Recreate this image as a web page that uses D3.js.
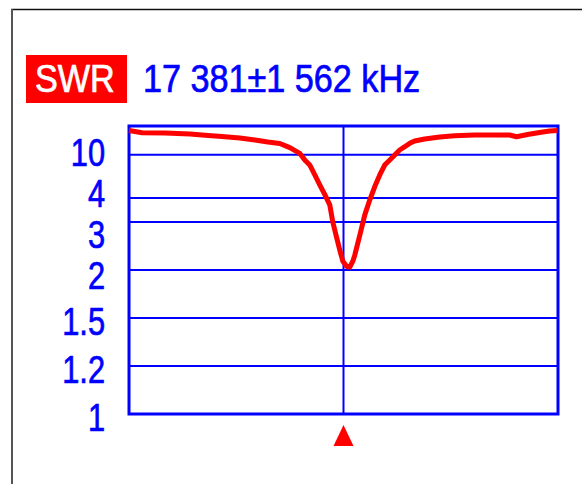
<!DOCTYPE html>
<html>
<head>
<meta charset="utf-8">
<script src="https://cdn.jsdelivr.net/npm/d3@7/dist/d3.min.js"></script>
<style>
  html, body { margin: 0; padding: 0; background: #fff; }
  svg { display: block; }
</style>
</head>
<body>
<svg id="chart" width="582" height="484"></svg>
<script>
// Sweep settings (kHz)
const centerKHz = 17381;
const spanKHz = 1562;

// Measured sweep: frequency (kHz) and SWR
const freqKHz = [15819, 15914, 16081, 16263, 16372, 16495, 16626, 16736, 16830, 16917,
  16990, 17063, 17099, 17135, 17172, 17208, 17245, 17281, 17303, 17332,
  17354, 17376, 17405, 17427, 17449, 17463, 17500, 17536, 17572, 17608,
  17645, 17681, 17718, 17754, 17790, 17827, 17863, 17899, 17972, 18081,
  18190, 18336, 18590, 18641, 18721, 18809, 18881, 18939];
const swr = [64, 43, 41, 36, 31, 27.4, 24, 20.6, 18, 16.5,
  13.3, 10.5, 8.5, 7.4, 5.9, 4.9, 4.2, 3.65, 3.0, 2.57,
  2.32, 2.13, 2.05, 2.04, 2.13, 2.23, 2.64, 3.24, 3.89, 4.74,
  5.88, 7.38, 8.47, 9.93, 12, 13.9, 16.6, 19.2, 22.2, 26.2,
  29.7, 32, 32, 26.9, 33.9, 44, 57.6, 64];

// SWR grid values and their labels
const swrTicks = [1, 1.2, 1.5, 2, 3, 4, 10];
const swrTickLabels = ["1", "1.2", "1.5", "2", "3", "4", "10"];

const svg = d3.select("#chart");
const plot = { left: 129, right: 558, top: 126, bottom: 414 };
const blue = "#0000ff", red = "#ff0000";
const font = "'Liberation Sans', Arial, sans-serif";

// Frequency axis
const x = d3.scaleLinear()
  .domain([centerKHz - spanKHz, centerKHz + spanKHz])
  .range([plot.left, plot.right]);

// SWR axis: linear in 1/SWR, so SWR = 1 at the bottom and SWR = infinity at the top
const yRecip = d3.scaleLinear().domain([1, 0]).range([plot.bottom, plot.top]);
const y = s => yRecip(1 / s);

// Outer screen frame
svg.append("line").attr("x1", 11).attr("x2", 582).attr("y1", 9.5).attr("y2", 9.5)
  .attr("stroke", "#111").attr("stroke-width", 1.5);
svg.append("line").attr("x1", 12).attr("x2", 12).attr("y1", 9).attr("y2", 484)
  .attr("stroke", "#555").attr("stroke-width", 2);

// Title
const fmt = d3.formatLocale({ decimal: ".", thousands: "\u2009", grouping: [3], currency: ["", ""] }).format(",");
const fmtSp = v => fmt(v).replace(/\u2009/g, " ");
svg.append("rect").attr("x", 26).attr("y", 55).attr("width", 101).attr("height", 48).attr("fill", red);
svg.append("g").attr("transform", "translate(35,92)")
  .append("text").attr("transform", "scale(0.9,1)")
  .attr("font-family", font).attr("font-size", 38)
  .attr("fill", "#fff").attr("stroke", "#fff").attr("stroke-width", 0.7)
  .text("SWR");
svg.append("g").attr("transform", "translate(143,92)")
  .append("text").attr("transform", "scale(0.9,1)")
  .attr("font-family", font).attr("font-size", 38)
  .attr("fill", blue).attr("stroke", blue).attr("stroke-width", 0.7)
  .text(`${fmtSp(centerKHz)}\u00b1${fmtSp(spanKHz)} kHz`);

// Horizontal grid lines
svg.append("g").selectAll("line")
  .data(swrTicks.filter(v => v > 1))
  .join("line")
  .attr("x1", plot.left).attr("x2", plot.right)
  .attr("y1", d => y(d)).attr("y2", d => y(d))
  .attr("stroke", blue).attr("stroke-width", 2);

// Center frequency line
svg.append("line")
  .attr("x1", x(centerKHz)).attr("x2", x(centerKHz))
  .attr("y1", plot.top).attr("y2", plot.bottom)
  .attr("stroke", blue).attr("stroke-width", 2);

// Plot frame
svg.append("rect")
  .attr("x", plot.left).attr("y", plot.top)
  .attr("width", plot.right - plot.left).attr("height", plot.bottom - plot.top)
  .attr("fill", "none").attr("stroke", blue).attr("stroke-width", 3);

// Tick labels: placed near their grid line, then pushed apart so they never overlap
const gap = 41, offset = 3;
const items = swrTicks.map((v, i) => ({ v, label: swrTickLabels[i], target: y(v) + offset }))
  .sort((a, b) => a.target - b.target);
const groups = [];
items.forEach(it => {
  groups.push({ items: [it], sum: it.target, n: 1 });
  while (groups.length > 1) {
    const cur = groups[groups.length - 1], prev = groups[groups.length - 2];
    if (prev.sum / prev.n + prev.n * gap <= cur.sum / cur.n) break;
    const merged = {
      items: prev.items.concat(cur.items),
      sum: prev.sum + cur.sum - cur.n * prev.n * gap,
      n: prev.n + cur.n
    };
    groups.splice(groups.length - 2, 2, merged);
  }
});
groups.forEach(g => {
  const start = g.sum / g.n;
  g.items.forEach((it, k) => { it.pos = start + k * gap; });
});

svg.append("g").selectAll("g")
  .data(items)
  .join("g")
  .attr("transform", d => `translate(105,${d.pos})`)
  .append("text")
  .attr("transform", "scale(0.81,1)")
  .attr("text-anchor", "end")
  .attr("dy", "0.36em")
  .attr("font-family", font)
  .attr("font-size", 38)
  .attr("fill", blue)
  .attr("stroke", blue)
  .attr("stroke-width", 0.7)
  .text(d => d.label);

// SWR curve
const line = d3.line().x((d, i) => x(freqKHz[i])).y(d => y(d));
svg.append("path")
  .datum(swr)
  .attr("d", line)
  .attr("fill", "none")
  .attr("stroke", red)
  .attr("stroke-width", 5)
  .attr("stroke-linejoin", "round");

// Center frequency marker
const cx = x(centerKHz), mTop = plot.bottom + 11, mSize = 20;
svg.append("path")
  .attr("d", `M${cx},${mTop}L${cx + mSize / 2},${mTop + mSize + 1}L${cx - mSize / 2},${mTop + mSize + 1}Z`)
  .attr("fill", red);
</script>
</body>
</html>
